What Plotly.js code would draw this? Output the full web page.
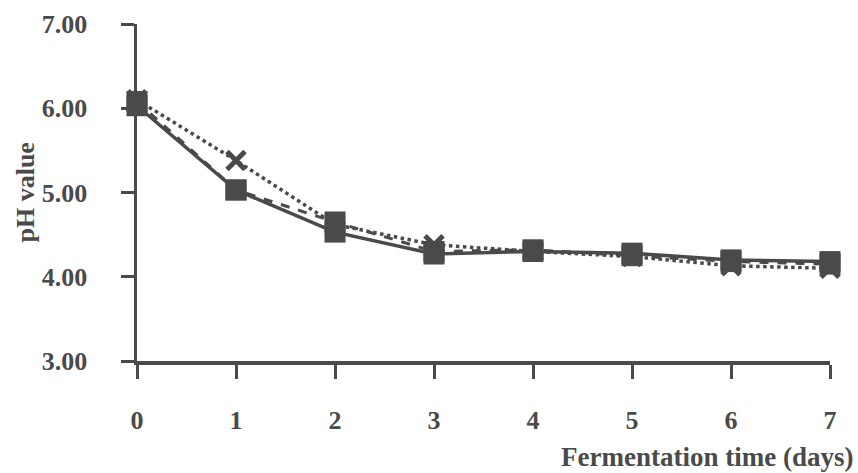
<!DOCTYPE html>
<html>
<head>
<meta charset="utf-8">
<script src="https://cdn.plot.ly/plotly-3.0.1.min.js"></script>
<style>
  html, body { margin: 0; padding: 0; background: #ffffff; }
  #chart { width: 858px; height: 473px; }
</style>
</head>
<body>
<div id="chart"></div>
<script>
// Fermentation days
const days = [0, 1, 2, 3, 4, 5, 6, 7];
const dayLabels = ['0', '1', '2', '3', '4', '5', '6', '7'];

// pH readings per series
const phSolid  = [6.03, 5.03, 4.53, 4.27, 4.30, 4.28, 4.20, 4.18];
const phDashed = [6.08, 5.03, 4.65, 4.30, 4.32, 4.25, 4.18, 4.15];
const phDotted = [6.10, 5.38, 4.62, 4.38, 4.30, 4.24, 4.13, 4.10];

const ink = '#4a4a4a';
const serif = 'Liberation Serif, Times New Roman, serif';

const traces = [
  {
    x: days, y: phDotted, type: 'scatter', mode: 'lines+markers',
    line: { color: ink, width: 3.5, dash: 'dot' },
    marker: { symbol: 'x-thin-open', size: 18, color: ink, line: { width: 5, color: ink } },
    cliponaxis: false, hoverinfo: 'skip'
  },
  {
    x: days, y: phDashed, type: 'scatter', mode: 'lines+markers',
    line: { color: ink, width: 3, dash: 'dash' },
    marker: { symbol: 'square', size: 21, color: ink },
    cliponaxis: false, hoverinfo: 'skip'
  },
  {
    x: days, y: phSolid, type: 'scatter', mode: 'lines+markers',
    line: { color: ink, width: 3.5 },
    marker: { symbol: 'square', size: 21, color: ink },
    cliponaxis: false, hoverinfo: 'skip'
  }
];

const layout = {
  width: 858, height: 473,
  margin: { l: 137, r: 28, t: 24, b: 112 },
  paper_bgcolor: '#ffffff', plot_bgcolor: '#ffffff',
  showlegend: false,
  font: { family: serif, color: ink, size: 26 },
  xaxis: {
    range: [0, 7], tickvals: days, ticktext: dayLabels,
    showgrid: false, zeroline: false,
    showline: true, linecolor: ink, linewidth: 3.5,
    ticks: 'outside', ticklen: 14, tickwidth: 3, tickcolor: ink,
    ticklabelstandoff: 19,
    tickfont: { family: serif, size: 26, color: ink, weight: 'bold' }
  },
  yaxis: {
    range: [3, 7], dtick: 1, tick0: 3, tickformat: '.2f',
    showgrid: false, zeroline: false,
    showline: true, linecolor: ink, linewidth: 3.5,
    ticks: 'outside', ticklen: 13, tickwidth: 3, tickcolor: ink,
    ticklabelstandoff: 28,
    tickfont: { family: serif, size: 26, color: ink, weight: 'bold' }
  },
  annotations: [
    {
      text: 'Fermentation time (days)', showarrow: false,
      xref: 'paper', yref: 'paper', x: 1, y: 0,
      xanchor: 'right', yanchor: 'middle', xshift: 25, yshift: -96,
      font: { family: serif, size: 27, color: ink, weight: 'bold' }
    },
    {
      text: 'pH value', showarrow: false, textangle: -90,
      xref: 'paper', yref: 'paper', x: 0, y: 0.5,
      xanchor: 'center', yanchor: 'middle', xshift: -112,
      font: { family: serif, size: 26, color: ink, weight: 'bold' }
    }
  ]
};

Plotly.newPlot('chart', traces, layout, { displayModeBar: false, staticPlot: true });
</script>
</body>
</html>
